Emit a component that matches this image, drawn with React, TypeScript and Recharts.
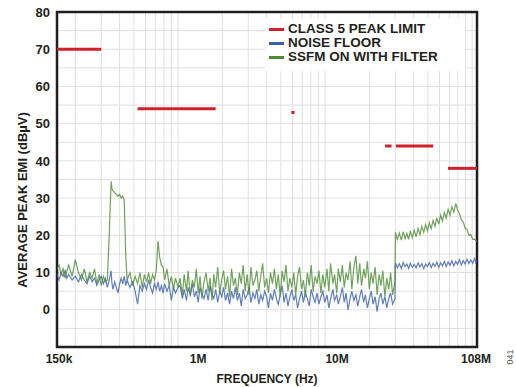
import { LineChart, Line, XAxis, YAxis, CartesianGrid, ReferenceArea } from "recharts"

// frequencies in MHz
const freqLw = [
  0.15, 0.155, 0.16, 0.165, 0.17, 0.175, 0.18, 0.19, 0.2, 0.21,
  0.22, 0.23, 0.24, 0.25, 0.26, 0.27, 0.28, 0.29, 0.3, 0.31,
  0.32, 0.33, 0.34, 0.35, 0.355, 0.36, 0.37, 0.38, 0.39, 0.4,
  0.41, 0.42, 0.43, 0.44, 0.45, 0.47, 0.49, 0.51, 0.53, 0.55,
  0.57, 0.59, 0.61, 0.63, 0.65, 0.67, 0.69, 0.71, 0.73, 0.75,
  0.77, 0.79, 0.81, 0.84, 0.87, 0.9, 0.93, 0.96, 1.0,
]
const freqHf = [
  1.03, 1.07, 1.1, 1.14, 1.17, 1.21, 1.25, 1.29, 1.33, 1.37,
  1.41, 1.45, 1.5, 1.55, 1.6, 1.65, 1.7, 1.75, 1.8, 1.86,
  1.92, 1.98, 2.04, 2.1, 2.17, 2.24, 2.31, 2.38, 2.45, 2.53,
  2.61, 2.69, 2.77, 2.86, 2.95, 3.04, 3.13, 3.23, 3.33, 3.43,
  3.54, 3.65, 3.76, 3.88, 4.0, 4.12, 4.25, 4.38, 4.52, 4.66,
  4.8, 4.95, 5.1, 5.26, 5.42, 5.59, 5.76, 5.94, 6.12, 6.31,
  6.5, 6.7, 6.91, 7.12, 7.34, 7.57, 7.8, 8.04, 8.29, 8.55,
  8.81, 9.08, 9.36, 9.65, 9.95, 10.3, 10.6, 10.9, 11.3, 11.6,
  12.0, 12.3, 12.7, 13.1, 13.5, 13.9, 14.3, 14.8, 15.2, 15.7,
  16.2, 16.7, 17.2, 17.7, 18.3, 18.8, 19.4, 20.0, 20.6, 21.2,
  21.9, 22.6, 23.3, 24.0, 24.7, 25.5, 26.3, 27.1, 27.9, 28.8,
  29.9,
]
const freqVhf = [
  30.1, 31, 32, 33, 34, 35, 36, 37, 38, 39.2,
  40.4, 41.6, 42.9, 44.2, 45.5, 46.9, 48.3, 49.7, 51.2, 52.7,
  54.3, 55.9, 57.6, 59.3, 61.1, 62.9, 64.8, 66.7, 68.7, 70.8,
  72.9, 75.1, 77.4, 79.7, 82.1, 84.5, 87.1, 89.7, 92.4, 95.1,
  98, 101, 104, 106, 108,
]

// noise floor (dBµV)
const floorLw = [
  9.5, 8, 10, 9, 10.5, 8.5, 9.5, 8, 9, 7.5,
  9.5, 8, 7, 9, 7.5, 8.5, 6.5, 8, 9, 7,
  8.5, 6, 8, 10.5, 7, 5.5, 7.5, 6, 4.5, 7,
  8.5, 7, 9, 6.5, 8, 6, 7.5, 5, 1.5, 6.5,
  5, 7, 5.5, 8, 6, 4.5, 7, 5.5, 7.5, 5,
  6.5, 4.5, 7, 5, 6.5, 2.5, 6, 4.5, 6,
]
const floorHf = [
  6.5, 3, 5.5, 2.5, 6, 4, 7, 3.5, 5, 2,
  6, 4.5, 3, 5.5, 2.5, 6.5, 4, 3, 5.5, 2,
  5, 3.5, 6, 2.5, 4.5, 1.5, 5, 3, 6, 2.5,
  4.5, 1, 5.5, 3, 4, 6, 2, 4.5, 3, 5.5,
  1.5, 4, 2.5, 5, 3.5, 0.5, 4.5, 2.5, 5.5, 3,
  1.5, 4, 6.5, 2, 4.5, 1, 3.5, 5.5, 2.5, 4,
  0.5, 3, 5, 2, 4.5, 3, 1, 5.5, 3.5, 2,
  4.5, 1.5, 3.5, 5, 2, 4, 0.5, 3, 5.5, 2.5,
  4, 1.5, 3.5, 6, 2, 4.5, 0, 3, 5, 2.5,
  4, 1, 3.5, 5.5, 2, 4, 0.5, 3, 5, 1.5,
  3.5, -0.5, 3, 4.5, 1.5, 3.5, 0.5, 3, 4.5, 1.5,
  3,
]
const floorVhf = [
  12.6, 11.3, 12.4, 11.1, 12.7, 11.6, 12.3, 11.1, 12.5, 11.4,
  12.2, 11.2, 12.6, 11.5, 12.4, 11.0, 12.3, 11.6, 12.7, 11.3,
  12.5, 11.7, 12.8, 11.4, 12.6, 11.8, 13.0, 11.6, 12.8, 12.0,
  13.2, 11.8, 13.0, 12.2, 13.5, 12.0, 13.2, 12.3, 13.6, 12.4,
  13.4, 12.5, 13.8, 12.7, 13.4,
]

// SSFM on with filter (dBµV)
const ssfmLw = [
  11, 12, 9.5, 11, 8.5, 10.5, 12, 9, 13.5, 10,
  8, 11, 7.5, 10, 8.5, 11, 7, 9.5, 6.5, 9,
  7.5, 8, 20, 34.5, 32.5, 32, 31.5, 31, 30.5, 31,
  30, 30.5, 29.5, 15, 8, 10, 6.5, 9, 7, 10,
  6, 9.5, 7.5, 10, 7, 9.5, 8, 10.5, 18.5, 14,
  12, 11.5, 8, 11, 6.5, 9, 5.5, 8.5, 6,
]
const ssfmHf = [
  8.5, 4, 9.5, 5, 10.5, 3.5, 8, 6, 11, 4.5,
  9, 3, 7.5, 10, 5, 8.5, 2.5, 9.5, 6, 11.5,
  4.5, 8, 10.5, 5.5, 9, 3.5, 11, 6.5, 8.5, 4,
  10, 7, 12, 5, 9.5, 4, 11.5, 6.5, 8, 10.5,
  5, 9, 12.5, 6, 8.5, 4.5, 10, 7, 11, 5.5,
  9.5, 3.5, 10.5, 7.5, 12, 5, 8.5, 6, 10, 4,
  9, 11.5, 5.5, 8, 3.5, 10, 6.5, 12, 5, 9,
  7, 10.5, 4.5, 9.5, 6, 11, 5, 12.5, 7, 9.5,
  4.5, 11, 7.5, 12, 6, 10, 8, 13, 5.5, 11.5,
  14.5, 7, 12.5, 6.5, 11, 8.5, 13, 5.5, 10, 7,
  11.5, 4, 9.5, 6.5, 10.5, 3.5, 8.5, 5.5, 10, 4,
  7.5,
]
const ssfmVhf = [
  20.8, 18.9, 20.6, 18.7, 21.0, 19.1, 20.5, 18.9, 21.2, 19.4,
  21.4, 19.6, 21.9, 20.2, 22.4, 20.8, 22.9, 21.2, 23.4, 21.8,
  24.0, 22.4, 24.7, 23.0, 25.4, 23.8, 26.2, 24.6, 27.0, 25.4,
  27.7, 26.2, 28.6, 26.8, 25.8, 24.2, 23.6, 21.9, 21.6, 20.0,
  20.2, 18.9, 19.0, 18.6, 18.3,
]

// class 5 peak limit bands
const limitStart = [0.15, 0.53, 5.9, 25.6, 30.3, 68.6]
const limitEnd = [0.3, 1.8, 6.2, 28.3, 54.4, 108]
const limitLevel = [70, 54, 53, 44, 44, 38]

const xTicks = [0.15, 1, 10, 108]
const xTickLabels = ["150k", "1M", "10M", "108M"]
const yTicks = [0, 10, 20, 30, 40, 50, 60, 70, 80]
const gridX = [0.2, 0.3, 0.4, 0.5, 0.6, 0.7, 0.8, 0.9, 1, 2, 3, 4, 5, 6, 7, 8, 9, 10, 20, 30, 40, 50, 60, 70, 80, 90, 100]
const gridY = [-5, 0, 5, 10, 15, 20, 25, 30, 35, 40, 45, 50, 55, 60, 65, 70, 75]

const freqs = [...freqLw, ...freqHf, ...freqVhf]
const floor = [...floorLw, ...floorHf, ...floorVhf]
const ssfm = [...ssfmLw, ...ssfmHf, ...ssfmVhf]
const noiseData = freqs.map((f, i) => ({ f, floor: floor[i], ssfm: ssfm[i] }))
const limits = limitStart.map((s, i) => [
  { f: s, v: limitLevel[i] },
  { f: limitEnd[i], v: limitLevel[i] },
])

const FONT = '"Liberation Sans", Arial, sans-serif'
const INK = "#231f20"
const RED = "#d0212b"
const BLUE = "#3a5fab"
const GREEN = "#4d8b34"

// labels in the original sit a bit right of their gridline
const labelShift: Record<string, number> = { "150k": 2, "1M": 20, "10M": 12, "108M": -1 }

function XTick(props: any) {
  const { x, y, payload } = props
  const label = xTickLabels[xTicks.indexOf(payload.value)] ?? ""
  return (
    <text x={x + (labelShift[label] ?? 0)} y={y} dy={9} textAnchor="middle" fill={INK} fontSize={12} fontWeight="bold" fontFamily={FONT}>
      {label}
    </text>
  )
}

const legendItems = [
  { name: "CLASS 5 PEAK LIMIT", color: RED },
  { name: "NOISE FLOOR", color: BLUE },
  { name: "SSFM ON WITH FILTER", color: GREEN },
]

export default function App() {
  return (
    <div style={{ position: "absolute", left: 0, top: 0, width: 516, height: 387, background: "#fff" }}>
      <LineChart width={516} height={387} data={noiseData} margin={{ top: 12, right: 39, bottom: 0, left: 0 }}>
        <CartesianGrid horizontalValues={gridY} verticalValues={gridX} stroke="#e0e0e0" strokeWidth={1} />
        <XAxis
          dataKey="f"
          type="number"
          scale="log"
          domain={[0.15, 108]}
          allowDataOverflow
          ticks={xTicks}
          tick={<XTick />}
          tickLine={false}
          axisLine={false}
          tickSize={6}
          tickMargin={1}
          height={40}
          interval={0}
        />
        <YAxis
          type="number"
          domain={[-10, 80]}
          ticks={yTicks}
          allowDataOverflow
          width={57}
          tickLine={false}
          axisLine={false}
          tickSize={6}
          tickMargin={1}
          interval={0}
          tick={{ fill: INK, fontSize: 13, fontWeight: "bold", fontFamily: FONT }}
        />
        <Line dataKey="floor" stroke={BLUE} strokeWidth={1.2} strokeOpacity={0.8} dot={false} activeDot={false} isAnimationActive={false} />
        <Line dataKey="ssfm" stroke={GREEN} strokeWidth={1.2} strokeOpacity={0.8} dot={false} activeDot={false} isAnimationActive={false} />
        {limits.map((seg, i) => (
          <Line key={i} data={seg} dataKey="v" stroke={RED} strokeWidth={3} dot={false} activeDot={false} isAnimationActive={false} />
        ))}
        <ReferenceArea x1={0.15} x2={108} y1={-10} y2={80} fill="none" stroke={INK} strokeWidth={2.5} ifOverflow="visible" />
      </LineChart>
      <div style={{ position: "absolute", left: 265, top: 19, width: 200, height: 52, background: "#fff", padding: "3px 0 0 4px", boxSizing: "border-box", fontFamily: FONT, fontWeight: "bold", fontSize: 13.5, color: INK }}>
        {legendItems.map((it) => (
          <div key={it.name} style={{ display: "flex", alignItems: "center", height: 14, lineHeight: "14px" }}>
            <span style={{ display: "inline-block", width: 15, height: 3, background: it.color, marginRight: 4, flex: "none" }} />
            <span style={{ whiteSpace: "nowrap" }}>{it.name}</span>
          </div>
        ))}
      </div>
      <div style={{ position: "absolute", left: 267, top: 379, transform: "translate(-50%, -50%)", whiteSpace: "nowrap", fontFamily: FONT, fontWeight: "bold", fontSize: 12, color: INK }}>
        FREQUENCY (Hz)
      </div>
      <div style={{ position: "absolute", left: 22, top: 200, transform: "translate(-50%, -50%) rotate(-90deg)", whiteSpace: "nowrap", fontFamily: FONT, fontWeight: "bold", fontSize: 13, color: INK }}>
        AVERAGE PEAK EMI (dBµV)
      </div>
      <div style={{ position: "absolute", left: 510, top: 357, transform: "translate(-50%, -50%) rotate(-90deg)", whiteSpace: "nowrap", fontFamily: FONT, fontSize: 9, color: "#555" }}>
        041
      </div>
    </div>
  )
}
